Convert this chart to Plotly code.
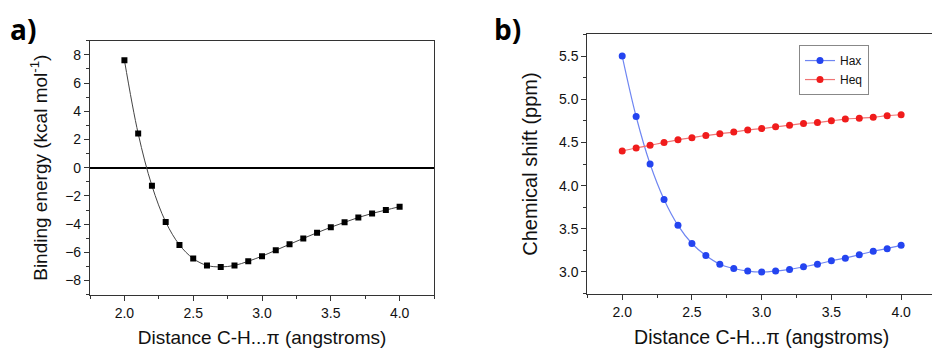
import plotly.graph_objects as go

distance = [2.0, 2.1, 2.2, 2.3, 2.4, 2.5, 2.6, 2.7, 2.8, 2.9, 3.0,
            3.1, 3.2, 3.3, 3.4, 3.5, 3.6, 3.7, 3.8, 3.9, 4.0]
binding_energy = [7.62, 2.42, -1.28, -3.84, -5.47, -6.44, -6.93, -7.03, -6.93, -6.63, -6.27,
                  -5.85, -5.43, -5.01, -4.61, -4.22, -3.87, -3.53, -3.24, -3.0, -2.76]
hax = [5.50, 4.80, 4.25, 3.84, 3.54, 3.33, 3.19, 3.09, 3.04, 3.01, 3.00,
       3.01, 3.03, 3.06, 3.09, 3.13, 3.16, 3.20, 3.24, 3.27, 3.31]
heq = [4.40, 4.435, 4.466, 4.50, 4.53, 4.555, 4.58, 4.60, 4.62, 4.645, 4.66,
       4.68, 4.70, 4.72, 4.73, 4.75, 4.77, 4.78, 4.79, 4.81, 4.82]

x_title = "Distance C-H...π (angstroms)"
ya_title = "Binding energy (kcal mol<sup>-1</sup>)"
yb_title = "Chemical shift (ppm)"

FONT = "Liberation Sans, Arial, sans-serif"
AX = "#333333"

fig = go.Figure()
fig.add_trace(go.Scatter(
    x=distance, y=binding_energy, mode="lines+markers", showlegend=False,
    line=dict(color="#444444", width=1, shape="spline"),
    marker=dict(symbol="square", size=6, color="black"),
    xaxis="x", yaxis="y"))
fig.add_trace(go.Scatter(
    x=distance, y=hax, mode="lines+markers", name="Hax",
    line=dict(color="#6f86f2", width=1.2, shape="spline"),
    marker=dict(symbol="circle", size=7, color="#2444f0"),
    xaxis="x2", yaxis="y2"))
fig.add_trace(go.Scatter(
    x=distance, y=heq, mode="lines+markers", name="Heq",
    line=dict(color="#f07474", width=1.2, shape="spline"),
    marker=dict(symbol="circle", size=7, color="#f01c1c"),
    xaxis="x2", yaxis="y2"))

common = dict(showline=True, linecolor=AX, linewidth=1.2, mirror=True,
              ticks="outside", ticklen=5, tickcolor=AX, tickwidth=1,
              showgrid=False, automargin=False,
              tickfont=dict(family=FONT, size=14, color="#111"))

# The page body has an 8px default margin, so the figure is 932x340.
fig.update_layout(
    width=932, height=340,
    margin=dict(l=0, r=0, t=0, b=0, autoexpand=False),
    paper_bgcolor="white", plot_bgcolor="white",
    xaxis=dict(domain=[0.0880, 0.4571], range=[1.75, 4.25], dtick=0.5, tick0=2.0,
               tickformat=".1f", zeroline=False, anchor="y",
               minor=dict(dtick=0.25, ticks="outside", ticklen=3, tickcolor=AX),
               title=dict(text=x_title, standoff=11,
                          font=dict(family=FONT, size=19, color="#111")), **common),
    yaxis=dict(domain=[0.1568, 0.9038], range=[-9, 9], dtick=2, tick0=0,
               zeroline=True, zerolinecolor="black", zerolinewidth=1.5, anchor="x",
               minor=dict(dtick=1, ticks="outside", ticklen=3, tickcolor=AX),
               title=dict(text=ya_title, standoff=12,
                          font=dict(family=FONT, size=19, color="#111")), **common),
    xaxis2=dict(domain=[0.6216, 0.9957], range=[1.75, 4.25], dtick=0.5, tick0=2.0,
                tickformat=".1f", zeroline=False, anchor="y2",
                minor=dict(dtick=0.25, ticks="outside", ticklen=3, tickcolor=AX),
                title=dict(text=x_title, standoff=11,
                           font=dict(family=FONT, size=19.5, color="#111")), **common),
    yaxis2=dict(domain=[0.1588, 0.9235], range=[2.745, 5.755], dtick=0.5, tick0=3.0,
                tickformat=".1f", zeroline=False, anchor="x2",
                minor=dict(dtick=0.25, ticks="outside", ticklen=3, tickcolor=AX),
                title=dict(text=yb_title, standoff=15,
                           font=dict(family=FONT, size=20, color="#111")), **common),
    legend=dict(x=0.8487, y=0.891, xanchor="left", yanchor="top",
                bgcolor="white", bordercolor="#888888", borderwidth=1,
                font=dict(family=FONT, size=12, color="#111"),
                itemwidth=30, tracegroupgap=0),
    annotations=[
        dict(text="<b>a)</b>", x=0.0, y=1.0, xref="paper", yref="paper",
             xanchor="left", yanchor="top", showarrow=False,
             font=dict(family="Open Sans, sans-serif", size=28, color="black")),
        dict(text="<b>b)</b>", x=0.519, y=1.0, xref="paper", yref="paper",
             xanchor="left", yanchor="top", showarrow=False,
             font=dict(family="Open Sans, sans-serif", size=28, color="black")),
    ],
)

fig.write_html("out.html")
